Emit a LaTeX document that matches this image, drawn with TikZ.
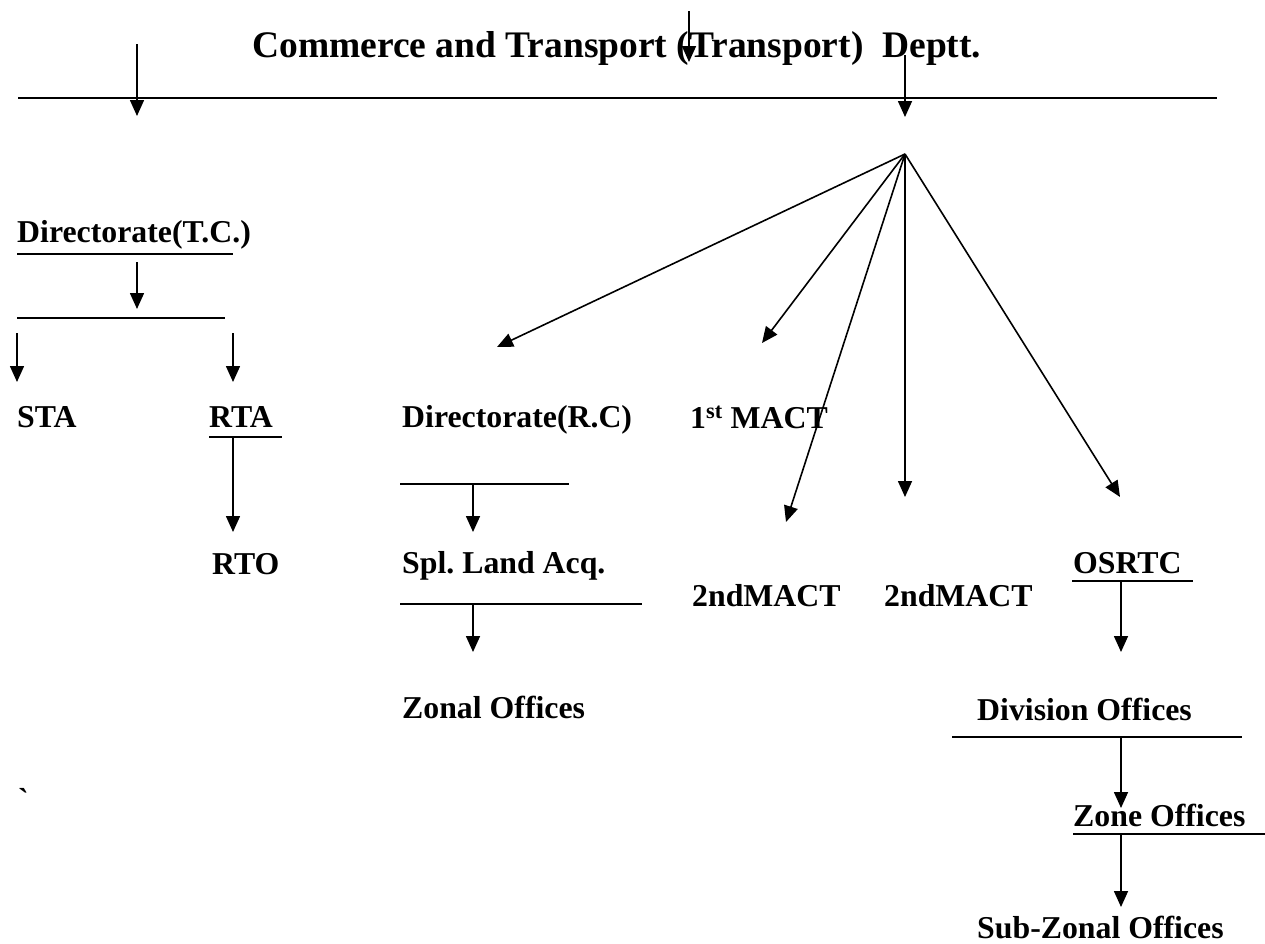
\documentclass[tikz,border=0pt]{standalone}
\usepackage{fontspec}
\setmainfont{Liberation Serif}
\usetikzlibrary{arrows.meta}
\frenchspacing
\begin{document}
\begin{tikzpicture}[x=1pt,y=-1pt,
  lbl/.style={anchor=base west,inner sep=0pt,font=\fontsize{31.8}{36}\selectfont\bfseries},
  ttl/.style={anchor=base west,inner sep=0pt,font=\fontsize{37.5}{44}\selectfont\bfseries},
  conn/.style={line width=1.6pt,-{Triangle[width=14pt,length=16pt]}},
  rule/.style={line width=1.6pt}]
\useasboundingbox (0,0) rectangle (1265,943);
% title
\node[ttl] (title) at (252,57) {Commerce and Transport (Transport)\ \ Deptt.};
\coordinate (la1) at (137,44); \coordinate (la2) at (137,116);
\coordinate (ma1) at (689,11); \coordinate (ma2) at (689,62);
\coordinate (ra1) at (905,55); \coordinate (ra2) at (905,117);
\coordinate (tl1) at (18,98); \coordinate (tl2) at (1217,98);
\draw[rule] (tl1) -- (tl2);
\draw[conn] (la1) -- (la2);
\draw[conn] (ma1) -- (ma2);
\draw[conn] (ra1) -- (ra2);
% left branch
\node[lbl] (dtc) at (17,242) {Directorate(T.C.)};
\coordinate (u1a) at (17,254); \coordinate (u1b) at (233,254);
\draw[rule] (u1a) -- (u1b);
\coordinate (a1a) at (137,262); \coordinate (a1b) at (137,309);
\draw[conn] (a1a) -- (a1b);
\coordinate (l2a) at (17,318); \coordinate (l2b) at (225,318);
\draw[rule] (l2a) -- (l2b);
\coordinate (sa1) at (17,333); \coordinate (sa2) at (17,382);
\coordinate (ta1) at (233,333); \coordinate (ta2) at (233,382);
\draw[conn] (sa1) -- (sa2);
\draw[conn] (ta1) -- (ta2);
\node[lbl] (sta) at (17,427) {STA};
\node[lbl] (rta) at (209,427) {RTA};
\coordinate (rua) at (209,437); \coordinate (rub) at (282,437);
\draw[rule] (rua) -- (rub);
\coordinate (rto1) at (233,437); \coordinate (rto2) at (233,532);
\draw[conn] (rto1) -- (rto2);
\node[lbl] (rto) at (212,574) {RTO};
% middle branch
\node[lbl] (drc) at (402,427) {Directorate(R.C)};
\coordinate (m1a) at (400,484); \coordinate (m1b) at (569,484);
\draw[rule] (m1a) -- (m1b);
\coordinate (ma3) at (473,484); \coordinate (ma4) at (473,532);
\draw[conn] (ma3) -- (ma4);
\node[lbl] (spl) at (402,573) {Spl. Land Acq.};
\coordinate (m2a) at (400,604); \coordinate (m2b) at (642,604);
\draw[rule] (m2a) -- (m2b);
\coordinate (ma5) at (473,604); \coordinate (ma6) at (473,652);
\draw[conn] (ma5) -- (ma6);
\node[lbl] (zon) at (402,718) {Zonal Offices};
% hub arrows
\coordinate (hub) at (905,154);
\coordinate (h1) at (497,347);
\coordinate (h2) at (762,343);
\coordinate (h3) at (786,522);
\coordinate (h4) at (905,497);
\coordinate (h5) at (1120,497);
\foreach \t in {h1,h2,h3,h4,h5} \draw[conn] (hub) -- (\t);
\node[lbl] (mact1) at (690,428) {1\textsuperscript{st} MACT};
\node[lbl] (mact2) at (692,606) {2ndMACT};
\node[lbl] (mact3) at (884,606) {2ndMACT};
% OSRTC branch
\node[lbl] (osrtc) at (1073,573) {OSRTC};
\coordinate (oua) at (1072,581); \coordinate (oub) at (1193,581);
\draw[rule] (oua) -- (oub);
\coordinate (oa1) at (1121,581); \coordinate (oa2) at (1121,652);
\draw[conn] (oa1) -- (oa2);
\node[lbl] (div) at (977,720) {Division Offices};
\coordinate (dla) at (952,737); \coordinate (dlb) at (1242,737);
\draw[rule] (dla) -- (dlb);
\coordinate (da1) at (1121,737); \coordinate (da2) at (1121,808);
\draw[conn] (da1) -- (da2);
\node[lbl] (zone) at (1073,826) {Zone Offices};
\coordinate (zua) at (1073,834); \coordinate (zub) at (1265,834);
\draw[rule] (zua) -- (zub);
\coordinate (za1) at (1121,834); \coordinate (za2) at (1121,907);
\draw[conn] (za1) -- (za2);
\node[lbl] (sub) at (977,938) {Sub-Zonal Offices};
\node[lbl] (bq) at (18,810) {\textasciigrave};
\end{tikzpicture}
\end{document}
